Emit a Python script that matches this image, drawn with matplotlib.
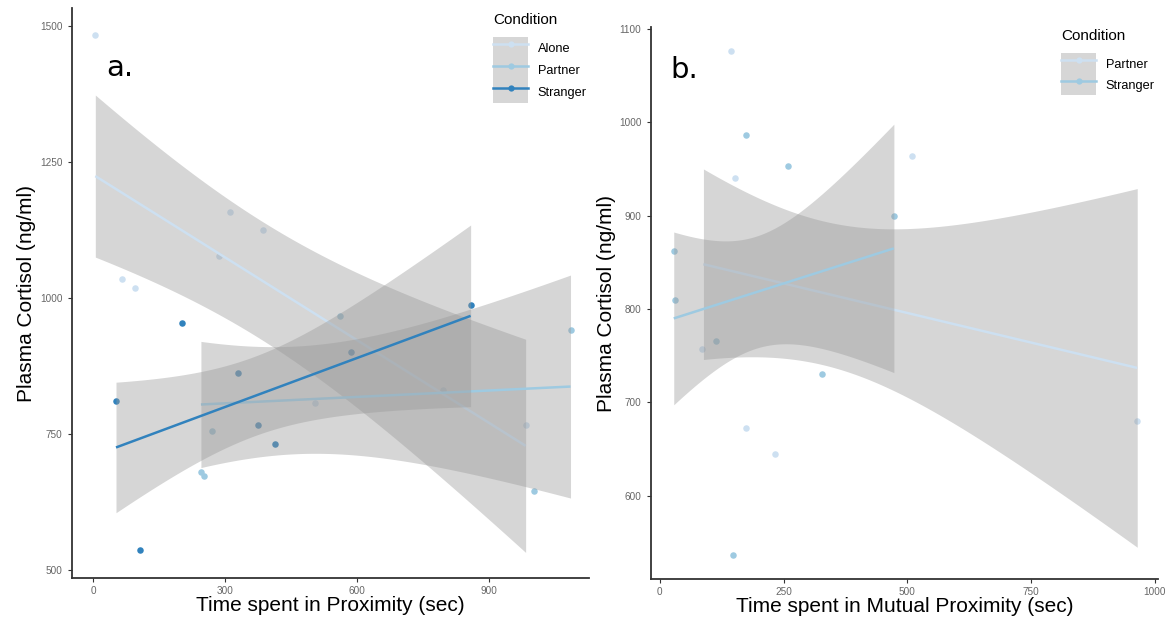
import numpy as np
import matplotlib.pyplot as plt
from matplotlib.patches import Patch
from matplotlib.lines import Line2D
from matplotlib.legend_handler import HandlerTuple

plt.rcParams['font.family'] = ['Liberation Sans', 'DejaVu Sans']

# panel a: time spent in proximity (sec) vs plasma cortisol (ng/ml)
alone_x = [5, 65, 96, 285, 311, 387, 504, 796, 983]
alone_y = [1483, 1035, 1018, 1077, 1158, 1125, 807, 831, 767]
partner_x = [245, 253, 271, 560, 1002, 1085]
partner_y = [680, 673, 756, 966, 645, 941]
stranger_x = [52, 107, 201, 329, 375, 414, 587, 858]
stranger_y = [811, 537, 954, 862, 766, 732, 901, 987]

# panel b: time spent in mutual proximity (sec)
mut_partner_x = [85, 143, 152, 175, 233, 510, 965]
mut_partner_y = [757, 1076, 940, 673, 645, 964, 680]
mut_stranger_x = [28, 30, 113, 148, 175, 258, 328, 473]
mut_stranger_y = [862, 810, 766, 537, 986, 953, 730, 900]

# lm fits:
# x start, x end, fitted y at start, fitted y at end,
# 95% CI half-width at start, at end, and at its narrowest
fit_a = [(5, 983, 1224, 728, 149, 196, 109),
         (245, 1085, 804, 837, 116, 205, 99),
         (52, 858, 725, 967, 120, 167, 73)]
fit_b = [(88, 965, 848, 737, 102, 192, 77),
         (28, 473, 790, 865, 92.5, 133, 60)]

conds_a = ['Alone', 'Partner', 'Stranger']
conds_b = ['Partner', 'Stranger']
colors_a = ['#cde0f1', '#9ecae1', '#3182bd']
colors_b = ['#cde0f1', '#9ecae1']
band_col = '#999999'


def smooth(ax, fit, color, z):
    x0, x1, y0, y1, hl, hr, h0 = fit
    a = np.sqrt(hl**2 - h0**2)
    b = np.sqrt(hr**2 - h0**2)
    xb = x0 + (x1 - x0) * a / (a + b)
    k = (a + b) / (x1 - x0)
    xs = np.linspace(x0, x1, 200)
    yhat = y0 + (y1 - y0) * (xs - x0) / (x1 - x0)
    h = np.sqrt(h0**2 + (k * (xs - xb))**2)
    ax.fill_between(xs, yhat - h, yhat + h, color=band_col, alpha=0.4, lw=0, zorder=z)
    ax.plot(xs, yhat, color=color, lw=1.8, zorder=z + 0.5, solid_capstyle='butt')


def style(ax):
    for s in ['top', 'right']:
        ax.spines[s].set_visible(False)
    for s in ['left', 'bottom']:
        ax.spines[s].set_color('#333333')
        ax.spines[s].set_linewidth(1.3)
    ax.tick_params(length=3, width=0.8, color='#333333', labelsize=7.2,
                   labelcolor='#666666', pad=3)
    ax.tick_params(axis='y', pad=4)


fig = plt.figure(figsize=(11.76, 6.25), dpi=100)

# ---- panel a
ax1 = fig.add_axes([72 / 1176, 1 - 578 / 625, 517 / 1176, 570 / 625])
for x, y, c in zip([alone_x, partner_x, stranger_x], [alone_y, partner_y, stranger_y], colors_a):
    ax1.scatter(x, y, s=22, color=c, lw=0, zorder=2)
for i, (f, c) in enumerate(zip(fit_a, colors_a)):
    smooth(ax1, f, c, 3 + i)
ax1.set_xlim(-48, 1127)
ax1.set_ylim(485, 1533)
ax1.set_xticks([0, 300, 600, 900])
ax1.set_yticks([500, 750, 1000, 1250, 1500])
style(ax1)
ax1.set_xlabel('Time spent in Proximity (sec)', fontsize=15)
ax1.set_ylabel('Plasma Cortisol (ng/ml)', fontsize=15)
ax1.xaxis.set_label_coords(0.5, -0.031)
ax1.yaxis.set_label_coords(-0.07, 0.5)
fig.text(106 / 1176, 1 - 76 / 625, 'a.', fontsize=21, family='DejaVu Sans', va='baseline')

# ---- panel b
ax2 = fig.add_axes([651 / 1176, 1 - 579 / 625, 507 / 1176, 552 / 625])
for x, y, c in zip([mut_partner_x, mut_stranger_x], [mut_partner_y, mut_stranger_y], colors_b):
    ax2.scatter(x, y, s=22, color=c, lw=0, zorder=2)
for i, (f, c) in enumerate(zip(fit_b, colors_b)):
    smooth(ax2, f, c, 3 + i)
ax2.set_xlim(-18, 1007)
ax2.set_ylim(511, 1102)
ax2.set_xticks([0, 250, 500, 750, 1000])
ax2.set_yticks([600, 700, 800, 900, 1000, 1100])
style(ax2)
ax2.set_xlabel('Time spent in Mutual Proximity (sec)', fontsize=15)
ax2.set_ylabel('Plasma Cortisol (ng/ml)', fontsize=15)
ax2.xaxis.set_label_coords(0.5, -0.033)
ax2.yaxis.set_label_coords(-0.069, 0.5)
fig.text(670 / 1176, 1 - 78 / 625, 'b.', fontsize=21, family='DejaVu Sans', va='baseline')

# ---- legends (grey key background like ggplot's smooth keys)
def legend(ax, conds, colors, x, y_title, y_keys, row_h):
    fs = 9.2
    handles = [(Patch(facecolor=band_col, alpha=0.4, lw=0),
                Line2D([], [], color=c, lw=1.8, marker='o', markersize=4.5, markeredgewidth=0))
               for c in colors]
    fig.text(x / 1176, 1 - y_title / 625, 'Condition', fontsize=11, va='center')
    ax.legend(handles, conds, handler_map={tuple: HandlerTuple(ndivide=1, pad=0)},
              loc='upper left', bbox_to_anchor=(x / 1176, 1 - y_keys / 625),
              bbox_transform=fig.transFigure, frameon=False, fontsize=fs,
              borderpad=0, borderaxespad=0, labelspacing=0, handletextpad=0.75,
              handlelength=35 / (fs * 100 / 72), handleheight=row_h / (fs * 100 / 72),
              numpoints=1)


legend(ax1, conds_a, colors_a, 493, 20, 37, 29)
legend(ax2, conds_b, colors_b, 1061, 36, 53, 27.5)

fig.savefig('out.png', dpi=100)
